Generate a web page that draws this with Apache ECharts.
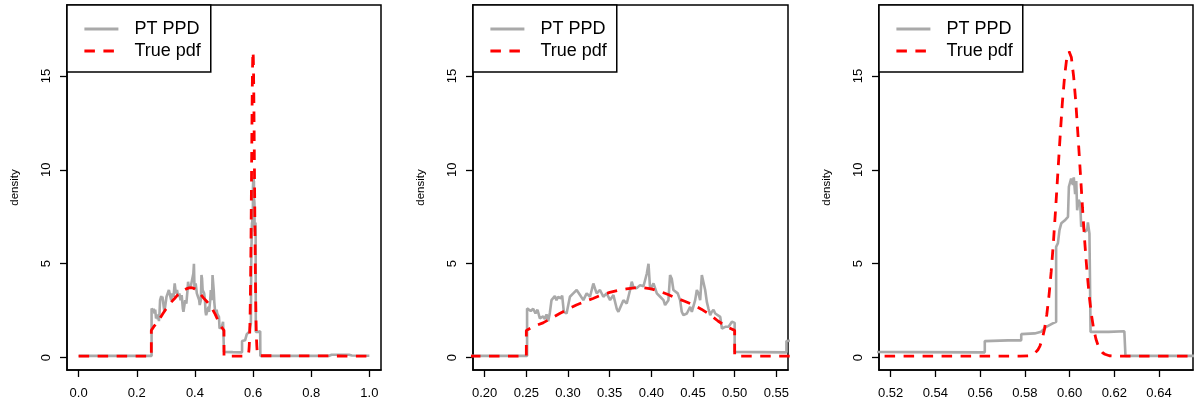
<!DOCTYPE html>
<html><head><meta charset="utf-8">
<script src="https://cdn.jsdelivr.net/npm/echarts@6/dist/echarts.min.js"></script>
<style>html,body{margin:0;padding:0;background:#fff}#c{width:1194px;height:404px}</style>
</head><body><div id="c"></div>
<script>
// PT PPD (posterior predictive density)
const ppdX = [0,0.2509,0.2509,0.2553,0.2582,0.261,0.2634,0.265,0.2662,0.2702,0.2722,0.2742,0.2762,0.2782,0.2802,0.2822,0.2842,0.2862,0.2882,0.2914,0.293,0.295,0.2983,0.3023,0.3063,0.3104,0.3144,0.3184,0.3224,0.3264,0.3304,0.3324,0.3344,0.3384,0.3424,0.3464,0.3505,0.3545,0.3585,0.3605,0.3625,0.3665,0.3705,0.3745,0.3765,0.3785,0.3825,0.3865,0.3906,0.3946,0.3966,0.3986,0.4026,0.4066,0.4106,0.4146,0.4165,0.4205,0.4225,0.4245,0.4265,0.4285,0.4317,0.4345,0.4365,0.4385,0.4426,0.4466,0.4486,0.4526,0.4546,0.4566,0.4586,0.4606,0.4626,0.4646,0.4666,0.4686,0.4706,0.4726,0.4746,0.4767,0.4787,0.4827,0.4847,0.4887,0.4927,0.4967,0.4987,0.5,0.5,0.53,0.5621,0.5621,0.5725,0.5784,0.5784,0.5844,0.5873,0.5896,0.5925,0.594,0.594,0.5948,0.5955,0.5963,0.5978,0.5985,0.5993,0.5997,0.6007,0.6015,0.6019,0.6025,0.603,0.6034,0.604,0.6048,0.6052,0.6059,0.6067,0.6079,0.6082,0.6089,0.6094,0.6094,0.6175,0.6178,0.6245,0.625,0.625,0.86,0.87,0.93,0.94,1.0];
const ppdY = [0.09,0.09,2.62,2.48,2.6,2.35,2.55,2.45,2.09,2.2,2.05,2.3,1.94,2.38,3.06,2.97,3.28,3.06,3.24,3.15,3.3,2.44,2.35,3.24,3.42,3.6,3.33,3.06,3.42,3.24,3.95,3.68,3.42,3.6,3.24,3.42,3.06,3.33,2.6,2.44,2.5,3.06,2.88,3.6,4.04,3.75,3.7,3.86,3.8,4.48,5.0,3.6,3.95,3.42,3.24,3.06,2.8,3.06,4.4,4.2,3.6,3.5,3.42,3.06,2.44,2.26,2.35,2.7,2.44,3.06,3.6,3.42,3.06,4.4,4.3,3.6,2.97,2.6,2.26,2.44,2.55,2.35,2.44,2.17,1.55,1.64,1.64,1.91,1.85,1.85,0.3,0.29,0.28,0.88,0.92,0.92,1.25,1.29,1.38,1.64,1.82,1.9,5.9,6.1,6.79,7.15,7.3,7.2,7.5,9.1,9.54,9.2,9.6,8.7,9.4,7.85,8.4,8.2,6.97,7.2,6.7,6.8,7.2,6.6,6.6,1.37,1.37,1.45,1.4,1.4,0.09,0.09,0.15,0.15,0.11,0.1];
// True pdf
const pdfX = [0,0.25,0.25,0.26,0.27,0.28,0.29,0.30,0.31,0.32,0.33,0.34,0.35,0.36,0.37,0.38,0.39,0.40,0.41,0.42,0.43,0.44,0.45,0.46,0.47,0.48,0.49,0.50,0.50,0.578,0.582,0.584,0.5848,0.5858,0.5868,0.5878,0.5888,0.5898,0.5908,0.5918,0.5928,0.5938,0.5948,0.5958,0.5968,0.5978,0.5988,0.5998,0.6008,0.6018,0.6028,0.6038,0.6048,0.6058,0.6068,0.6078,0.6088,0.6098,0.6108,0.6118,0.6128,0.6138,0.6148,0.6158,0.6178,0.62,1.0];
const pdfY = [0.08,0.08,1.45,1.68,1.85,2.1,2.35,2.58,2.8,2.98,3.15,3.33,3.47,3.58,3.66,3.71,3.72,3.66,3.53,3.36,3.17,3.0,2.82,2.58,2.3,1.95,1.65,1.45,0.08,0.08,0.10,0.18,0.26,0.40,0.63,0.99,1.52,2.27,3.29,4.59,6.16,7.97,9.9,11.8,13.6,15.0,16.0,16.3,16.0,15.0,13.6,11.8,9.9,7.97,6.16,4.59,3.29,2.27,1.52,0.99,0.63,0.40,0.26,0.18,0.10,0.08,0.08];
const seriesNames = ['PT PPD', 'True pdf'];
const yTicks = [0, 5, 10, 15];
const xTicks1 = [0.0, 0.2, 0.4, 0.6, 0.8, 1.0];
const xTicks2 = [0.20, 0.25, 0.30, 0.35, 0.40, 0.45, 0.50, 0.55];
const xTicks3 = [0.52, 0.54, 0.56, 0.58, 0.60, 0.62, 0.64];
const yName = 'density';

const ppd = ppdX.map((x, i) => [x, ppdY[i]]);
const pdf = pdfX.map((x, i) => [x, pdfY[i]]);

const FONT = 'Liberation Sans, Arial, Helvetica, sans-serif';
const panels = [
  {left: 67, width: 314, min: -0.04, max: 1.04, ticks: xTicks1, dig: 1},
  {left: 473, width: 315, min: 0.186, max: 0.564, ticks: xTicks2, dig: 2},
  {left: 879, width: 314, min: 0.5148, max: 0.6552, ticks: xTicks3, dig: 2}
];
const grid = [], xAxis = [], yAxis = [], series = [], legend = [];
panels.forEach((p, i) => {
  grid.push({left: p.left, top: 5, width: p.width, height: 365, show: true,
    borderColor: '#000', borderWidth: 1.5, backgroundColor: 'transparent'});
  xAxis.push({type: 'value', gridIndex: i, min: p.min, max: p.max,
    axisLine: {show: true, onZero: false, lineStyle: {color: '#000', width: 1.5}},
    axisTick: {show: true, customValues: p.ticks, length: 7, lineStyle: {color: '#000', width: 1.3}},
    axisLabel: {customValues: p.ticks, formatter: v => v.toFixed(p.dig), margin: 17,
      color: '#000', fontSize: 13, fontFamily: FONT},
    splitLine: {show: false}});
  yAxis.push({type: 'value', gridIndex: i, min: -0.66, max: 18.78,
    name: yName, nameLocation: 'middle', nameGap: 46,
    nameTextStyle: {color: '#000', fontSize: 11.5, fontFamily: FONT},
    axisLine: {show: true, onZero: false, lineStyle: {color: '#000', width: 1.5}},
    axisTick: {show: true, customValues: yTicks, length: 7, lineStyle: {color: '#000', width: 1.3}},
    axisLabel: {customValues: yTicks, rotate: 90, margin: 14, color: '#000', fontSize: 13, fontFamily: FONT},
    splitLine: {show: false}});
  series.push({type: 'line', name: seriesNames[0], xAxisIndex: i, yAxisIndex: i, data: ppd,
    symbol: 'none', showSymbol: false, clip: true, z: 2,
    lineStyle: {color: '#a9a9a9', width: 2.6}, itemStyle: {color: '#a9a9a9'}});
  series.push({type: 'line', name: seriesNames[1], xAxisIndex: i, yAxisIndex: i, data: pdf,
    symbol: 'none', showSymbol: false, clip: true, z: 3,
    lineStyle: {color: '#ff0000', width: 2.8, type: [10.5, 8.5]}, itemStyle: {color: '#ff0000'}});
  legend.push({left: p.left, top: 5, orient: 'vertical', data: seriesNames, selectedMode: false,
    backgroundColor: '#fff', borderColor: '#000', borderWidth: 1.5, borderRadius: 0,
    padding: [14, 10, 11, 16], itemWidth: 34, itemHeight: 20, itemGap: 2, z: 10,
    itemStyle: {opacity: 0},
    lineStyle: {width: 2.8},
    textStyle: {fontSize: 18, lineHeight: 20, color: '#000', fontFamily: FONT, padding: [0, 0, 0, 11]}});
});

const chart = echarts.init(document.getElementById('c'), null, {renderer: 'canvas'});
chart.setOption({animation: false, backgroundColor: '#fff', grid, xAxis, yAxis, series, legend});
</script></body></html>
